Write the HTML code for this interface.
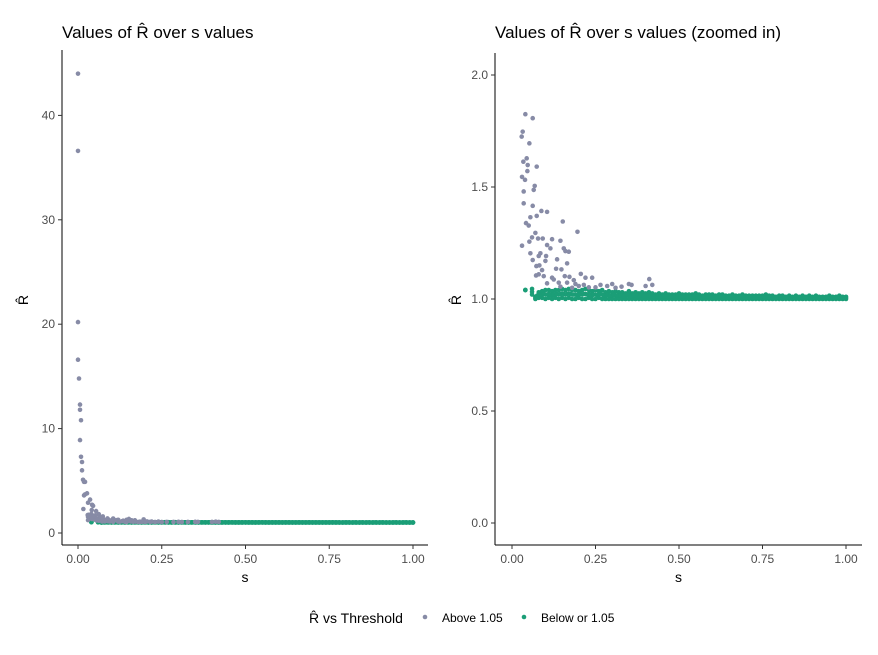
<!DOCTYPE html>
<html><head><meta charset="utf-8"><style>
body{margin:0;background:#fff;font-family:"Liberation Sans",sans-serif;}
svg text{font-family:"Liberation Sans",sans-serif;}
</style></head><body>
<svg id="c" width="878" height="650" viewBox="0 0 878 650" xmlns="http://www.w3.org/2000/svg"></svg>
<script>
// Gray series (above 1.05): s values and R-hat values
const grayS=[0.000,0.000,0.000,0.000,0.003,0.006,0.006,0.009,0.006,0.009,0.012,0.012,0.015,0.021,0.018,0.027,0.021,0.018,0.036,0.042,0.030,0.045,0.016,0.041,0.054,
0.040,0.062,0.032,0.029,0.052,0.034,0.044,0.047,0.074,0.030,0.039,0.046,0.035,0.065,0.068,0.035,0.062,0.055,0.074,0.088,0.105,0.042,0.050,0.070,0.152,0.196,
0.030,0.052,0.060,0.078,0.092,0.120,0.145,0.105,0.115,0.155,0.160,0.170,0.055,0.085,0.080,0.102,0.100,0.135,0.165,0.073,0.082,0.062,0.090,0.132,0.148,
0.072,0.080,0.095,0.120,0.125,0.158,0.172,0.206,0.185,0.220,0.240,0.105,0.140,0.165,0.190,0.200,0.215,0.265,0.285,0.300,0.328,0.350,0.358,0.411,0.400,0.420,0.145,0.230,0.250,0.310,0.180];
const grayR=[44.0,36.6,20.2,16.6,14.8,12.3,11.8,10.8,8.9,7.3,6.8,6.0,5.1,4.9,4.9,3.8,3.7,3.6,3.2,2.7,2.9,2.6,2.3,2.2,2.1,
1.825,1.807,1.747,1.725,1.695,1.613,1.628,1.598,1.591,1.545,1.532,1.571,1.48,1.487,1.505,1.427,1.416,1.365,1.371,1.393,1.389,1.339,1.328,1.295,1.346,1.30,
1.238,1.256,1.275,1.27,1.27,1.267,1.26,1.241,1.226,1.226,1.214,1.211,1.204,1.204,1.192,1.192,1.17,1.177,1.159,1.147,1.15,1.174,1.129,1.135,1.132,
1.105,1.11,1.102,1.095,1.087,1.102,1.099,1.112,1.084,1.095,1.095,1.07,1.073,1.073,1.067,1.058,1.063,1.063,1.058,1.067,1.055,1.067,1.063,1.089,1.058,1.063,1.055,1.052,1.052,1.05,1.05];
// Green series (below or 1.05): s values with upper and lower R-hat readings
const greenS=[0.04,0.06,0.07,0.08,0.09,0.10,0.11,0.12,0.13,0.14,0.15,0.16,0.17,0.18,0.19,0.20,0.21,0.22,0.23,0.24,0.25,0.26,0.27,0.28,0.29,0.30,0.31,0.32,0.33,0.34,0.35,0.36,0.37,0.38,0.39,0.40,0.41,0.42,0.43,0.44,0.45,0.46,0.47,0.48,0.49,0.50,0.51,0.52,0.53,0.54,0.55,0.56,0.57,0.58,0.59,0.60,0.61,0.62,0.63,0.64,0.65,0.66,0.67,0.68,0.69,0.70,0.71,0.72,0.73,0.74,0.75,0.76,0.77,0.78,0.79,0.80,0.81,0.82,0.83,0.84,0.85,0.86,0.87,0.88,0.89,0.90,0.91,0.92,0.93,0.94,0.95,0.96,0.97,0.98,0.99,1.00];
const greenHi=[1.04,1.045,1.01,1.03,1.035,1.04,1.04,1.035,1.04,1.04,1.045,1.04,1.045,1.04,1.04,1.035,1.04,1.045,1.04,1.035,1.04,1.035,1.04,1.03,1.035,1.03,1.035,1.03,1.03,1.025,1.035,1.025,1.03,1.025,1.03,1.025,1.03,1.025,1.02,1.025,1.02,1.025,1.02,1.02,1.02,1.025,1.02,1.02,1.02,1.02,1.025,1.02,1.015,1.02,1.02,1.02,1.015,1.02,1.02,1.015,1.015,1.02,1.015,1.015,1.02,1.015,1.015,1.015,1.015,1.015,1.015,1.02,1.015,1.015,1.01,1.015,1.015,1.01,1.015,1.01,1.015,1.01,1.015,1.01,1.015,1.01,1.015,1.01,1.01,1.01,1.015,1.01,1.01,1.015,1.01,1.01];
const greenLo=[1.04,1.02,1.0,1.005,1.005,1.0,1.005,1.0,1.005,1.0,1.005,1.0,1.005,1.0,1.0,1.005,1.0,1.0,1.005,1.0,1.0,1.005,1.0,1.0,1.0,1.0,1.0,1.0,1.0,1.0,1.0,1.0,1.0,1.0,1.0,1.0,1.0,1.0,1.0,1.0,1.0,1.0,1.0,1.0,1.0,1.0,1.0,1.0,1.0,1.0,1.0,1.0,1.0,1.0,1.0,1.0,1.0,1.0,1.0,1.0,1.0,1.0,1.0,1.0,1.0,1.0,1.0,1.0,1.0,1.0,1.0,1.0,1.0,1.0,1.0,1.0,1.0,1.0,1.0,1.0,1.0,1.0,1.0,1.0,1.0,1.0,1.0,1.0,1.0,1.0,1.0,1.0,1.0,1.0,1.0,1.0];
const xTicks=[0,0.25,0.5,0.75,1];
const xTickLabels=["0.00","0.25","0.50","0.75","1.00"];
const yTicksL=[0,10,20,30,40];
const yTickLabelsL=["0","10","20","30","40"];
const yTicksR=[0,0.5,1,1.5,2];
const yTickLabelsR=["0.0","0.5","1.0","1.5","2.0"];

const NS="http://www.w3.org/2000/svg";
const svg=document.getElementById('c');
function mk(tag,attrs,parent){const e=document.createElementNS(NS,tag);for(const k in attrs)e.setAttribute(k,attrs[k]);(parent||svg).appendChild(e);return e;}
const GRAY="#878ba6",GREEN="#1b9e77",PR=2.3;

const panels=[
 {name:'left',x0:62,x1:428,y0:50,y1:545,sx:s=>78+s*335,sy:r=>533-r*10.44,rmin:-1.2,rmax:47,
  yt:yTicksL,ytl:yTickLabelsL,title:"Values of R\u0302 over s values",ytx:28},
 {name:'right',x0:495,x1:862,y0:53,y1:545,sx:s=>512+s*334,sy:r=>523-r*224,rmin:0,rmax:2.0,
  yt:yTicksR,ytl:yTickLabelsR,title:"Values of R\u0302 over s values (zoomed in)",ytx:461}
];
panels.forEach(p=>{
 const g=mk('g',{});
 
 
 const t=mk('text',{x:p.x0,y:38,'font-size':17,fill:'#000'},g);t.textContent=p.title;
 
 const pts=mk('g',{},g);
 
 greenS.forEach((s,i)=>{[greenHi[i],greenLo[i],(greenHi[i]+greenLo[i])/2].forEach(r=>{
   if(r<p.rmin||r>p.rmax)return;
   const c=mk('circle',{cx:p.sx(s),cy:p.sy(r),r:PR,fill:GREEN},pts);
   
 });});
 for(let i=0;i<greenS.length-1;i++){
   const s=(greenS[i]+greenS[i+1])/2,r=(greenLo[i]+greenHi[i+1])/2;
   if(s<0.07)continue;
   const c=mk('circle',{cx:p.sx(s),cy:p.sy(r),r:PR,fill:GREEN},pts);
   
 }
 grayS.forEach((s,i)=>{const r=grayR[i];if(r<p.rmin||r>p.rmax)return;
   const c=mk('circle',{cx:p.sx(s),cy:p.sy(r),r:PR,fill:GRAY},pts);
   });
 const ya=mk('line',{x1:p.x0,y1:p.y0,x2:p.x0,y2:p.y1,stroke:'#000','stroke-width':1},g);
 
 const xa=mk('line',{x1:p.x0,y1:p.y1,x2:p.x1,y2:p.y1,stroke:'#000','stroke-width':1},g);
 
 xTicks.forEach((v,i)=>{const x=p.sx(v);
  mk('line',{x1:x,y1:p.y1,x2:x,y2:p.y1+4,stroke:'#333'},g);
  const l=mk('text',{x:x,y:p.y1+18,'font-size':12,fill:'#4d4d4d','text-anchor':'middle'},g);l.textContent=xTickLabels[i];
  });
 p.yt.forEach((v,i)=>{const y=p.sy(v);
  mk('line',{x1:p.x0-4,y1:y,x2:p.x0,y2:y,stroke:'#333'},g);
  const l=mk('text',{x:p.x0-7,y:y+4,'font-size':12,fill:'#4d4d4d','text-anchor':'end'},g);l.textContent=p.ytl[i];
  });
 const xt=mk('text',{x:(p.x0+p.x1)/2,y:582,'font-size':14,fill:'#000','text-anchor':'middle'},g);xt.textContent='s';
 
 const yy=mk('text',{x:p.ytx,y:300,'font-size':14,fill:'#000','text-anchor':'middle',transform:`rotate(-90 ${p.ytx} 300)`},g);yy.textContent='R\u0302';
 
});
const lg=mk('g',{});

const lt=mk('text',{x:309,y:623,'font-size':14,fill:'#000'},lg);lt.textContent='R\u0302 vs Threshold';

[[425,GRAY,'Above 1.05'],[524,GREEN,'Below or 1.05']].forEach(([x,c,txt])=>{
 const e=mk('g',{},lg);
 
 mk('circle',{cx:x,cy:617,r:PR,fill:c},e);
 const t=mk('text',{x:x+17,y:622,'font-size':12,fill:'#000'},e);t.textContent=txt;
});
</script>
</body></html>
